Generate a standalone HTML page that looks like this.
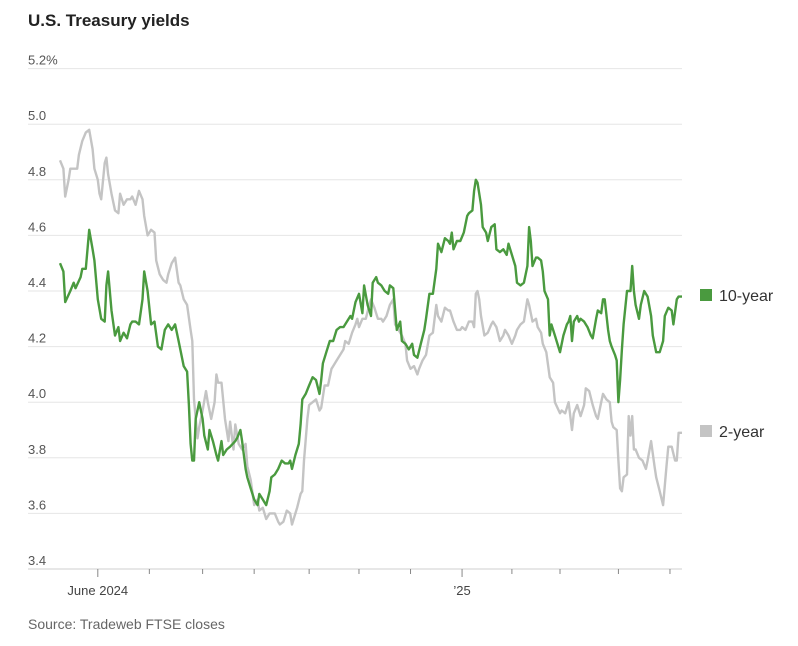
<!DOCTYPE html>
<html><head><meta charset="utf-8"><style>
body{margin:0;background:#fff;font-family:"Liberation Sans",sans-serif}
svg text{font-family:"Liberation Sans",sans-serif}
</style></head><body>
<svg id="chart" width="798" height="641" viewBox="0 0 798 641" xmlns="http://www.w3.org/2000/svg">
<text x="28" y="26" font-size="17" font-weight="bold" fill="#222">U.S. Treasury yields</text>
<g id="grid"></g><g id="xaxis"></g><g id="series"></g>
<g>
<rect x="700" y="289" width="12" height="12" fill="#4a9a3f"/>
<text x="719" y="301" font-size="16" fill="#333">10-year</text>
<rect x="700" y="425" width="12" height="12" fill="#c4c4c4"/>
<text x="719" y="437" font-size="16" fill="#333">2-year</text>
</g>
<text x="28" y="629" font-size="14" fill="#666">Source: Tradeweb FTSE closes</text>
</svg>
<script>
const yTicks=[5.2,5.0,4.8,4.6,4.4,4.2,4.0,3.8,3.6,3.4];
const yTickLabels=["5.2%","5.0","4.8","4.6","4.4","4.2","4.0","3.8","3.6","3.4"];
const monthTickDays=[22,52,83,113,145,174,204,234,263,291,325,355];
const monthLabels={0:"June 2024",7:"’25"};
const tenYearDays=[0,2,3,6,8,9,12,13,15,17,19,20,22,24,26,27,28,30,32,34,35,37,39,41,42,44,46,48,49,51,53,55,57,59,61,63,65,67,69,70,72,74,75,76,77,78,79,81,83,84,86,87,89,91,92,94,95,97,99,102,103,105,106,108,109,111,113,115,116,118,120,122,123,125,127,129,131,133,134,135,137,139,140,141,143,145,147,149,151,152,153,155,157,159,161,163,165,167,169,170,172,174,176,177,179,181,182,184,185,187,189,191,192,194,196,198,199,201,203,205,206,208,210,212,213,215,217,219,220,222,224,226,227,228,229,231,233,235,237,238,240,241,242,243,245,246,248,249,251,253,254,256,258,260,261,263,265,266,268,270,272,273,274,275,277,278,280,281,282,284,285,286,288,290,291,293,295,296,297,298,299,301,302,303,305,307,309,310,312,313,315,316,317,319,320,321,323,324,325,326,327,328,330,332,333,334,335,337,338,340,342,344,345,347,349,351,352,354,356,357,359,360,362];
const tenYear=[4.50,4.47,4.36,4.40,4.43,4.41,4.45,4.48,4.48,4.62,4.55,4.51,4.37,4.30,4.29,4.42,4.47,4.33,4.24,4.27,4.22,4.25,4.23,4.28,4.29,4.29,4.28,4.37,4.47,4.40,4.28,4.29,4.20,4.19,4.26,4.28,4.26,4.28,4.22,4.19,4.13,4.11,3.99,3.85,3.79,3.79,3.94,4.00,3.94,3.88,3.83,3.90,3.86,3.81,3.79,3.86,3.81,3.83,3.84,3.86,3.87,3.90,3.86,3.76,3.73,3.69,3.65,3.63,3.67,3.65,3.63,3.68,3.73,3.74,3.76,3.79,3.78,3.78,3.79,3.76,3.81,3.85,3.92,4.01,4.03,4.06,4.09,4.08,4.03,4.08,4.14,4.18,4.22,4.22,4.26,4.27,4.27,4.29,4.31,4.30,4.36,4.39,4.32,4.42,4.35,4.31,4.43,4.45,4.43,4.42,4.40,4.39,4.42,4.41,4.26,4.29,4.22,4.21,4.19,4.21,4.17,4.16,4.21,4.26,4.30,4.39,4.39,4.48,4.57,4.54,4.59,4.58,4.57,4.61,4.55,4.58,4.58,4.61,4.67,4.68,4.69,4.76,4.80,4.79,4.71,4.63,4.61,4.58,4.63,4.64,4.55,4.54,4.55,4.53,4.57,4.53,4.49,4.43,4.42,4.43,4.49,4.63,4.58,4.49,4.52,4.52,4.51,4.47,4.40,4.37,4.24,4.28,4.24,4.20,4.18,4.24,4.28,4.29,4.31,4.22,4.29,4.31,4.29,4.30,4.29,4.27,4.24,4.23,4.30,4.33,4.32,4.37,4.37,4.26,4.22,4.20,4.17,4.15,4.00,4.08,4.19,4.28,4.40,4.40,4.49,4.40,4.35,4.30,4.35,4.40,4.38,4.31,4.24,4.18,4.18,4.22,4.31,4.34,4.33,4.28,4.37,4.38,4.38];
const twoYearDays=[0,2,3,5,6,8,10,11,13,15,17,19,20,22,23,24,26,27,28,30,32,34,35,37,39,41,42,44,46,48,49,51,53,55,56,58,60,62,63,65,67,69,70,72,74,76,77,78,80,81,83,85,86,88,90,91,92,94,96,98,99,101,102,104,106,108,109,111,113,115,116,118,120,122,123,125,127,128,130,132,134,135,137,138,140,141,142,144,145,147,149,151,152,154,156,158,159,161,163,165,166,168,170,172,173,174,176,178,180,181,183,185,187,188,190,192,194,195,197,199,201,202,204,206,208,209,211,213,215,217,219,220,222,224,226,227,229,231,233,234,236,238,240,241,242,243,244,245,247,249,251,252,254,256,258,259,261,263,265,266,268,270,272,273,275,277,278,280,281,283,285,287,288,291,292,294,296,298,299,301,303,305,306,308,310,312,313,315,316,318,320,321,322,324,325,326,327,328,330,331,332,333,334,335,337,339,341,342,344,346,347,349,351,353,354,356,358,359,360,362];
const twoYear=[4.87,4.84,4.74,4.80,4.84,4.84,4.84,4.89,4.94,4.97,4.98,4.91,4.84,4.80,4.75,4.73,4.86,4.88,4.82,4.75,4.69,4.68,4.75,4.71,4.73,4.73,4.74,4.71,4.76,4.73,4.67,4.60,4.62,4.61,4.51,4.46,4.44,4.43,4.46,4.50,4.52,4.43,4.42,4.37,4.35,4.26,4.22,4.01,3.87,3.91,3.97,4.04,4.00,3.94,4.00,4.10,4.07,4.07,3.94,3.86,3.93,3.83,3.92,3.85,3.83,3.85,3.77,3.72,3.63,3.65,3.61,3.62,3.58,3.60,3.60,3.60,3.57,3.56,3.57,3.61,3.60,3.56,3.60,3.62,3.67,3.68,3.79,3.94,3.99,4.00,4.01,3.97,3.98,4.06,4.06,4.12,4.13,4.15,4.17,4.19,4.22,4.21,4.25,4.28,4.30,4.27,4.30,4.30,4.35,4.37,4.34,4.30,4.30,4.29,4.31,4.35,4.37,4.28,4.26,4.24,4.21,4.15,4.12,4.13,4.10,4.12,4.15,4.17,4.24,4.25,4.35,4.31,4.29,4.34,4.33,4.33,4.29,4.26,4.26,4.27,4.26,4.29,4.29,4.27,4.39,4.40,4.37,4.31,4.24,4.25,4.28,4.29,4.27,4.22,4.24,4.26,4.24,4.21,4.24,4.26,4.28,4.29,4.37,4.35,4.29,4.30,4.27,4.25,4.21,4.18,4.09,4.07,4.00,3.96,3.97,3.96,4.00,3.90,3.96,3.99,3.95,3.99,4.05,4.04,3.99,3.95,3.94,4.00,4.03,4.01,4.00,3.93,3.91,3.90,3.79,3.69,3.68,3.73,3.74,3.95,3.88,3.95,3.83,3.83,3.80,3.79,3.76,3.79,3.86,3.77,3.73,3.68,3.63,3.77,3.84,3.84,3.79,3.79,3.89,3.89];

const NS="http://www.w3.org/2000/svg";
const X0=60,X1=682,DMAX=362,Y0=569,PXV=278;
function yScale(v){return Y0-(v-3.4)*PXV;}
function xScale(d){return X0+(X1-X0)*d/DMAX;}
function mk(tag,attrs,parent){const e=document.createElementNS(NS,tag);for(const k in attrs)e.setAttribute(k,attrs[k]);parent.appendChild(e);return e;}
const grid=document.getElementById('grid');
yTicks.forEach((v,i)=>{
  const y=yScale(v);
  const l=mk('line',{x1:28,x2:682,y1:y,y2:y,stroke:i===yTicks.length-1?'#cfcfcf':'#e6e6e6','stroke-width':1},grid);
  
  
  const t=mk('text',{x:28,y:y-4,'font-size':13,fill:'#555'},grid);
  
  
  t.textContent=yTickLabels[i];
});
const xa=document.getElementById('xaxis');
monthTickDays.forEach((d,m)=>{
  const x=xScale(d);
  const tk=mk('line',{x1:x,x2:x,y1:Y0,y2:Y0+(monthLabels[m]?8:5),stroke:'#888','stroke-width':1},xa);
  
  
  if(monthLabels[m]){
    const t=mk('text',{x:x,y:595,'font-size':13,fill:'#444','text-anchor':'middle'},xa);
    
    
    t.textContent=monthLabels[m];
  }
});
const sg=document.getElementById('series');
function draw(days,arr,color,name){
  const d=arr.map((v,i)=>(i?'L':'M')+xScale(days[i]).toFixed(1)+','+yScale(v).toFixed(1)).join('');
  const p=mk('path',{d:d,fill:'none',stroke:color,'stroke-width':2.4,'stroke-linejoin':'round'},sg);
  
  
}
draw(twoYearDays,twoYear,'#c4c4c4','line-2-year');
draw(tenYearDays,tenYear,'#4a9a3f','line-10-year');
</script>
</body></html>
